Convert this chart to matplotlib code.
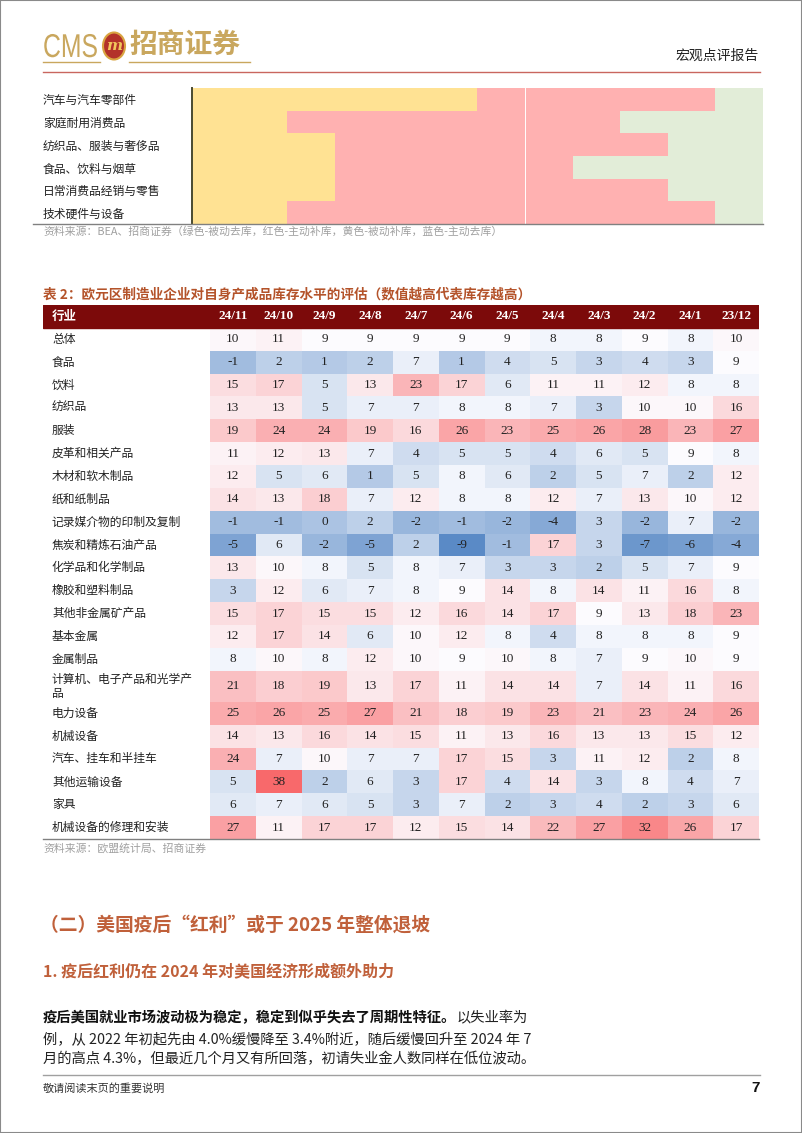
"""
Page 7 of CMS macro report: inventory-cycle block chart + euro-area
finished-goods inventory heatmap table, with surrounding page text.
"""
import matplotlib
matplotlib.use("Agg")
import matplotlib.pyplot as plt
import numpy as np
from matplotlib.colors import ListedColormap, LinearSegmentedColormap, TwoSlopeNorm
from matplotlib.font_manager import FontProperties
from matplotlib.lines import Line2D
from matplotlib.patches import Ellipse, PathPatch, Rectangle
from matplotlib.textpath import TextPath
from matplotlib.transforms import Affine2D

plt.rcParams["font.family"] = ["Noto Sans CJK SC", "DejaVu Sans"]

W, H = 802, 1133

# ---------------------------------------------------------------------------
# data
# ---------------------------------------------------------------------------
# inventory-cycle stage by industry (Y=被动补库, R=主动补库, G=被动去库)
stage_industries = [
    "汽车与汽车零部件",
    "家庭耐用消费品",
    "纺织品、服装与奢侈品",
    "食品、饮料与烟草",
    "日常消费品经销与零售",
    "技术硬件与设备",
]
stage_status = [
    "YYYYYYRRRRRG",
    "YYRRRRRRRGGG",
    "YYYRRRRRRRGG",
    "YYYRRRRRGGGG",
    "YYYRRRRRRRGG",
    "YYRRRRRRRRRG",
]
stage_colors = {"Y": "#FFE293", "R": "#FFB1B1", "G": "#E2EDD8"}

months = ["24/11", "24/10", "24/9", "24/8", "24/7", "24/6",
          "24/5", "24/4", "24/3", "24/2", "24/1", "23/12"]

industries = [
    "总体", "食品", "饮料", "纺织品", "服装", "皮革和相关产品", "木材和软木制品",
    "纸和纸制品", "记录媒介物的印制及复制", "焦炭和精炼石油产品", "化学品和化学制品",
    "橡胶和塑料制品", "其他非金属矿产品", "基本金属", "金属制品",
    "计算机、电子产品和光学产\n品", "电力设备", "机械设备", "汽车、挂车和半挂车",
    "其他运输设备", "家具", "机械设备的修理和安装",
]

inventory = [
    [10, 11, 9, 9, 9, 9, 9, 8, 8, 9, 8, 10],
    [-1, 2, 1, 2, 7, 1, 4, 5, 3, 4, 3, 9],
    [15, 17, 5, 13, 23, 17, 6, 11, 11, 12, 8, 8],
    [13, 13, 5, 7, 7, 8, 8, 7, 3, 10, 10, 16],
    [19, 24, 24, 19, 16, 26, 23, 25, 26, 28, 23, 27],
    [11, 12, 13, 7, 4, 5, 5, 4, 6, 5, 9, 8],
    [12, 5, 6, 1, 5, 8, 6, 2, 5, 7, 2, 12],
    [14, 13, 18, 7, 12, 8, 8, 12, 7, 13, 10, 12],
    [-1, -1, 0, 2, -2, -1, -2, -4, 3, -2, 7, -2],
    [-5, 6, -2, -5, 2, -9, -1, 17, 3, -7, -6, -4],
    [13, 10, 8, 5, 8, 7, 3, 3, 2, 5, 7, 9],
    [3, 12, 6, 7, 8, 9, 14, 8, 14, 11, 16, 8],
    [15, 17, 15, 15, 12, 16, 14, 17, 9, 13, 18, 23],
    [12, 17, 14, 6, 10, 12, 8, 4, 8, 8, 8, 9],
    [8, 10, 8, 12, 10, 9, 10, 8, 7, 9, 10, 9],
    [21, 18, 19, 13, 17, 11, 14, 14, 7, 14, 11, 16],
    [25, 26, 25, 27, 21, 18, 19, 23, 21, 23, 24, 26],
    [14, 13, 16, 14, 15, 11, 13, 16, 13, 13, 15, 12],
    [24, 7, 10, 7, 7, 17, 15, 3, 11, 12, 2, 8],
    [5, 38, 2, 6, 3, 17, 4, 14, 3, 8, 4, 7],
    [6, 7, 6, 5, 3, 7, 2, 3, 4, 2, 3, 6],
    [27, 11, 17, 17, 12, 15, 14, 22, 27, 32, 26, 17],
]

GOLD = "#C9A75E"
TITLE_RED = "#B4532A"
HEAD_ORANGE = "#C0603A"
GRAY_TXT = "#A0A0A0"


def fig_rect(x0, y0, x1, y1):
    """pixel box (top-left origin) -> figure fraction rect"""
    return [x0 / W, 1 - y1 / H, (x1 - x0) / W, (y1 - y0) / H]


def ftext(x, y, s, **kw):
    kw.setdefault("va", "center")
    return fig.text(x / W, 1 - y / H, s, **kw)


def fline(x0, x1, y, **kw):
    fig.add_artist(Line2D([x0 / W, x1 / W], [1 - y / H, 1 - y / H],
                          transform=fig.transFigure, **kw))


fig = plt.figure(figsize=(W / 100, H / 100), dpi=100)
fig.patch.set_facecolor("white")

# ---------------------------------------------------------------------------
# page header
# ---------------------------------------------------------------------------
# condensed "CMS" wordmark: text path squeezed horizontally
cms_path = TextPath((0, 0), "CMS", size=33, prop=FontProperties(family="Liberation Sans"))
fig.add_artist(PathPatch(cms_path, facecolor=GOLD, lw=0,
                         transform=Affine2D().scale(0.75, 1.0).translate(43, H - 57)))
fig.add_artist(Ellipse((114 / W, 1 - 46 / H), 22 / W, 27 / H,
                       transform=fig.transFigure, facecolor="#B3322A",
                       edgecolor="#D9A441", lw=1.5))
ftext(114, 46, "m", fontsize=11, color="#F2C75C", ha="center",
      fontweight="bold", style="italic", family=["DejaVu Serif"])
ftext(129, 45, "招商证券", fontsize=20, color=GOLD, fontweight="bold")
fline(43, 100, 62, color=GOLD, lw=1.0)
fline(129, 250, 62, color=GOLD, lw=1.0)
ftext(759, 56, "宏观点评报告", fontsize=10, color="#222222", ha="right")
fline(43, 760, 72, color="#C9665F", lw=1.0)

# ---------------------------------------------------------------------------
# top block chart (inventory-cycle stages)
# ---------------------------------------------------------------------------
ax1 = fig.add_axes(fig_rect(192, 88, 763, 224))
codes = "YRG"
grid = np.array([[codes.index(c) for c in row] for row in stage_status])
cmap1 = ListedColormap([stage_colors[c] for c in codes])
ax1.imshow(grid, cmap=cmap1, vmin=-0.5, vmax=2.5, aspect="auto",
           interpolation="nearest")
ax1.axvline(6.5, color="white", lw=0.7)
ax1.set_xticks([])
ax1.set_yticks(range(len(stage_industries)))
ax1.set_yticklabels(stage_industries, ha="left", fontsize=8.5, color="#222222")
ax1.tick_params(axis="y", length=0, pad=(192 - 43) * 0.72)
for side in ("top", "right", "bottom"):
    ax1.spines[side].set_visible(False)
ax1.spines["left"].set_color("#4A4A30")
ax1.spines["left"].set_linewidth(1.4)
fline(33, 763, 224, color="#808080", lw=1.0)
ftext(43, 232, "资料来源：BEA、招商证券（绿色-被动去库，红色-主动补库，黄色-被动补库，蓝色-主动去库）",
      fontsize=7.8, color=GRAY_TXT)

# ---------------------------------------------------------------------------
# table 2: heatmap
# ---------------------------------------------------------------------------
ftext(43, 294, "表 2：欧元区制造业企业对自身产成品库存水平的评估（数值越高代表库存越高）",
      fontsize=9.8, color=TITLE_RED, fontweight="bold")

vals = np.array(inventory, dtype=float)
ax2 = fig.add_axes(fig_rect(43, 305, 759, 839))
col_px = (759 - 210) / len(months)
label_w = (210 - 43) / col_px
row_h = [1.36 if "\n" in name else 1.0 for name in industries]
y_edges = np.concatenate([[0], np.cumsum(row_h)])
y_mid = (y_edges[:-1] + y_edges[1:]) / 2

cmap2 = LinearSegmentedColormap.from_list("excel3", ["#5A8AC6", "#FCFCFF", "#F8696B"])
norm = TwoSlopeNorm(vmin=vals.min(), vcenter=np.percentile(vals, 50), vmax=vals.max())
ax2.pcolormesh(np.arange(len(months) + 1), y_edges, vals, cmap=cmap2, norm=norm)
ax2.axhspan(-1, 0, color="#7C0A0A")
ax2.set_xlim(-label_w, len(months))
ax2.set_ylim(y_edges[-1], -1)

serif = ["Liberation Serif", "DejaVu Serif"]
label_x = -label_w + 9 / col_px
ax2.text(label_x, -0.5, "行业", color="white", fontsize=9, fontweight="bold",
         va="center", ha="left")
for j, m in enumerate(months):
    ax2.text(j + 0.5, -0.5, m, color="white", fontsize=9.5, fontweight="bold",
             ha="center", va="center", family=serif)
for i, name in enumerate(industries):
    ax2.text(label_x, y_mid[i], name, fontsize=8.5, color="#222222",
             ha="left", va="center", linespacing=1.15)
    for j in range(len(months)):
        ax2.text(j + 0.5, y_mid[i], f"{inventory[i][j]}", fontsize=9.5,
                 color="#222222", ha="center", va="center", family=serif)

ax2.set_xticks([])
ax2.set_yticks([])
for side in ("top", "right", "left"):
    ax2.spines[side].set_visible(False)
ax2.spines["bottom"].set_color("#808080")
ax2.spines["bottom"].set_linewidth(1.0)
ftext(43, 848, "资料来源：欧盟统计局、招商证券", fontsize=7.8, color=GRAY_TXT)

# ---------------------------------------------------------------------------
# body text
# ---------------------------------------------------------------------------
ftext(40, 925, "（二）美国疫后“红利”或于 2025 年整体退坡", fontsize=13.5,
      color=HEAD_ORANGE, fontweight="bold")
ftext(43, 971, "1. 疫后红利仍在 2024 年对美国经济形成额外助力", fontsize=11.5,
      color=HEAD_ORANGE, fontweight="bold")

t_bold = ftext(43, 1018, "疫后美国就业市场波动极为稳定，稳定到似乎失去了周期性特征。",
               fontsize=10.3, color="#111111", fontweight="bold")
renderer = fig.canvas.get_renderer()
x_after = t_bold.get_window_extent(renderer).x1
ftext(x_after, 1018, "以失业率为", fontsize=10.3, color="#222222")
ftext(43, 1039, "例，从 2022 年初起先由 4.0%缓慢降至 3.4%附近，随后缓慢回升至 2024 年 7",
      fontsize=10.3, color="#222222")
ftext(43, 1059, "月的高点 4.3%，但最近几个月又有所回落，初请失业金人数同样在低位波动。",
      fontsize=10.3, color="#222222")

# footer
fline(43, 760, 1075, color="#A0A0A0", lw=1.0)
ftext(43, 1088, "敬请阅读末页的重要说明", fontsize=8, color="#333333")
ftext(760, 1088, "7", fontsize=11, color="#111111", ha="right", fontweight="bold",
      family=["Liberation Sans"])

# page frame
fig.add_artist(Rectangle((0, 0), 1, 1, transform=fig.transFigure, fill=False,
                         edgecolor="#8A8A8A", lw=1.5))

fig.savefig("out.png", dpi=100, facecolor="white")
plt.close(fig)
